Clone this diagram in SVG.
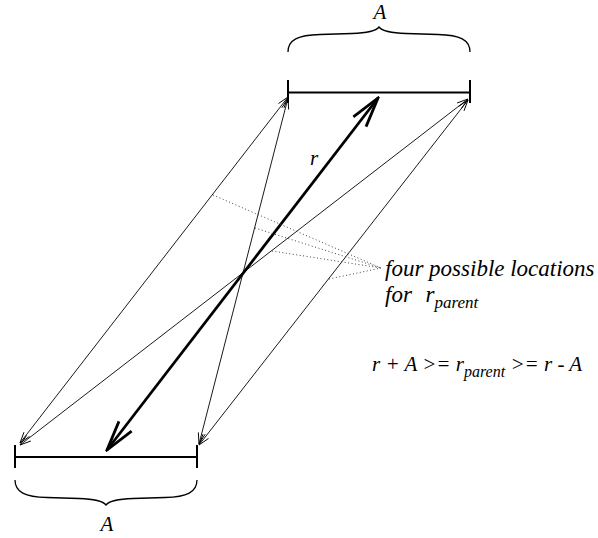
<svg xmlns="http://www.w3.org/2000/svg" width="598" height="538" viewBox="0 0 598 538">
<defs>
<style>
.bar{stroke:#000;stroke-width:2;fill:none}
.brace{stroke:#000;stroke-width:1.3;fill:none}
.thin{stroke:#000;stroke-width:0.9;fill:none}
.thick{stroke:#000;stroke-width:2.8;fill:none}
.dot{stroke:#444;stroke-width:1;stroke-dasharray:1 2.5;fill:none}
text{font-family:"Liberation Serif","Times New Roman",serif;font-style:italic;fill:#000}
.lbl{font-size:21px}
.big{font-size:23px}
.sub{font-size:16px}
.sub2{font-size:17px}
</style>
<marker id="ah" markerUnits="userSpaceOnUse" viewBox="-12 -5 14 10" refX="0" refY="0" markerWidth="14" markerHeight="10" orient="auto-start-reverse">
<path d="M-11,-3.5 L0,0 L-11,3.5" stroke="#000" stroke-width="0.9" fill="none"/>
</marker>
<marker id="big" markerUnits="userSpaceOnUse" viewBox="-32 -10 34 20" refX="0" refY="0" markerWidth="34" markerHeight="20" orient="auto-start-reverse">
<path d="M-30,-8 L0,0 L-30,8" stroke="#000" stroke-width="2.8" fill="none"/>
</marker>
</defs>
<rect width="598" height="538" fill="#fff"/>
<g id="top-segment">
<path class="bar" d="M288,80 V103 M470,80 V103 M288,92.5 H470"/>
<path class="brace" d="M288,52 C288,40 298,35 320,34.5 L352,33.5 C369,33 376,31 379,27 C382,31 389,33 406,33.5 L438,34.5 C460,35 470,40 470,52"/>
<text class="lbl" x="380" y="19" text-anchor="middle">A</text>
</g>
<g id="bottom-segment">
<path class="bar" d="M15,445 V468 M197,445 V468 M15,457 H197"/>
<path class="brace" d="M15,480 C15,492 25,497 47,497.5 L79,498.5 C96,499 103,501 106,505 C109,501 116,499 133,498.5 L165,497.5 C187,497 197,492 197,480"/>
<text class="lbl" x="107" y="531" text-anchor="middle">A</text>
</g>
<g id="connectors">
<line class="thin" x1="20" y1="443" x2="288" y2="97" marker-start="url(#ah)" marker-end="url(#ah)"/>
<line class="thin" x1="199" y1="444" x2="288" y2="98" marker-start="url(#ah)" marker-end="url(#ah)"/>
<line class="thin" x1="20" y1="445" x2="468" y2="99" marker-start="url(#ah)" marker-end="url(#ah)"/>
<line class="thin" x1="199" y1="445" x2="468" y2="100" marker-start="url(#ah)" marker-end="url(#ah)"/>
<line class="thick" x1="107" y1="450" x2="378" y2="98" marker-start="url(#big)" marker-end="url(#big)"/>
<path class="dot" d="M213,195 L381,268 M255,228 L381,268 M272,251 L381,268 M329,279 L381,268"/>
</g>
<g id="labels">
<text class="lbl" x="310" y="165">r</text>
<text class="big" x="385" y="276">four possible locations</text>
<text class="big" x="385" y="302">for <tspan dx="8">r</tspan><tspan class="sub2" dy="6">parent</tspan></text>
<text class="lbl" x="372" y="371">r + A &gt;= r<tspan class="sub" dy="6">parent</tspan><tspan dy="-6"> &gt;= r - A</tspan></text>
</g>
</svg>
